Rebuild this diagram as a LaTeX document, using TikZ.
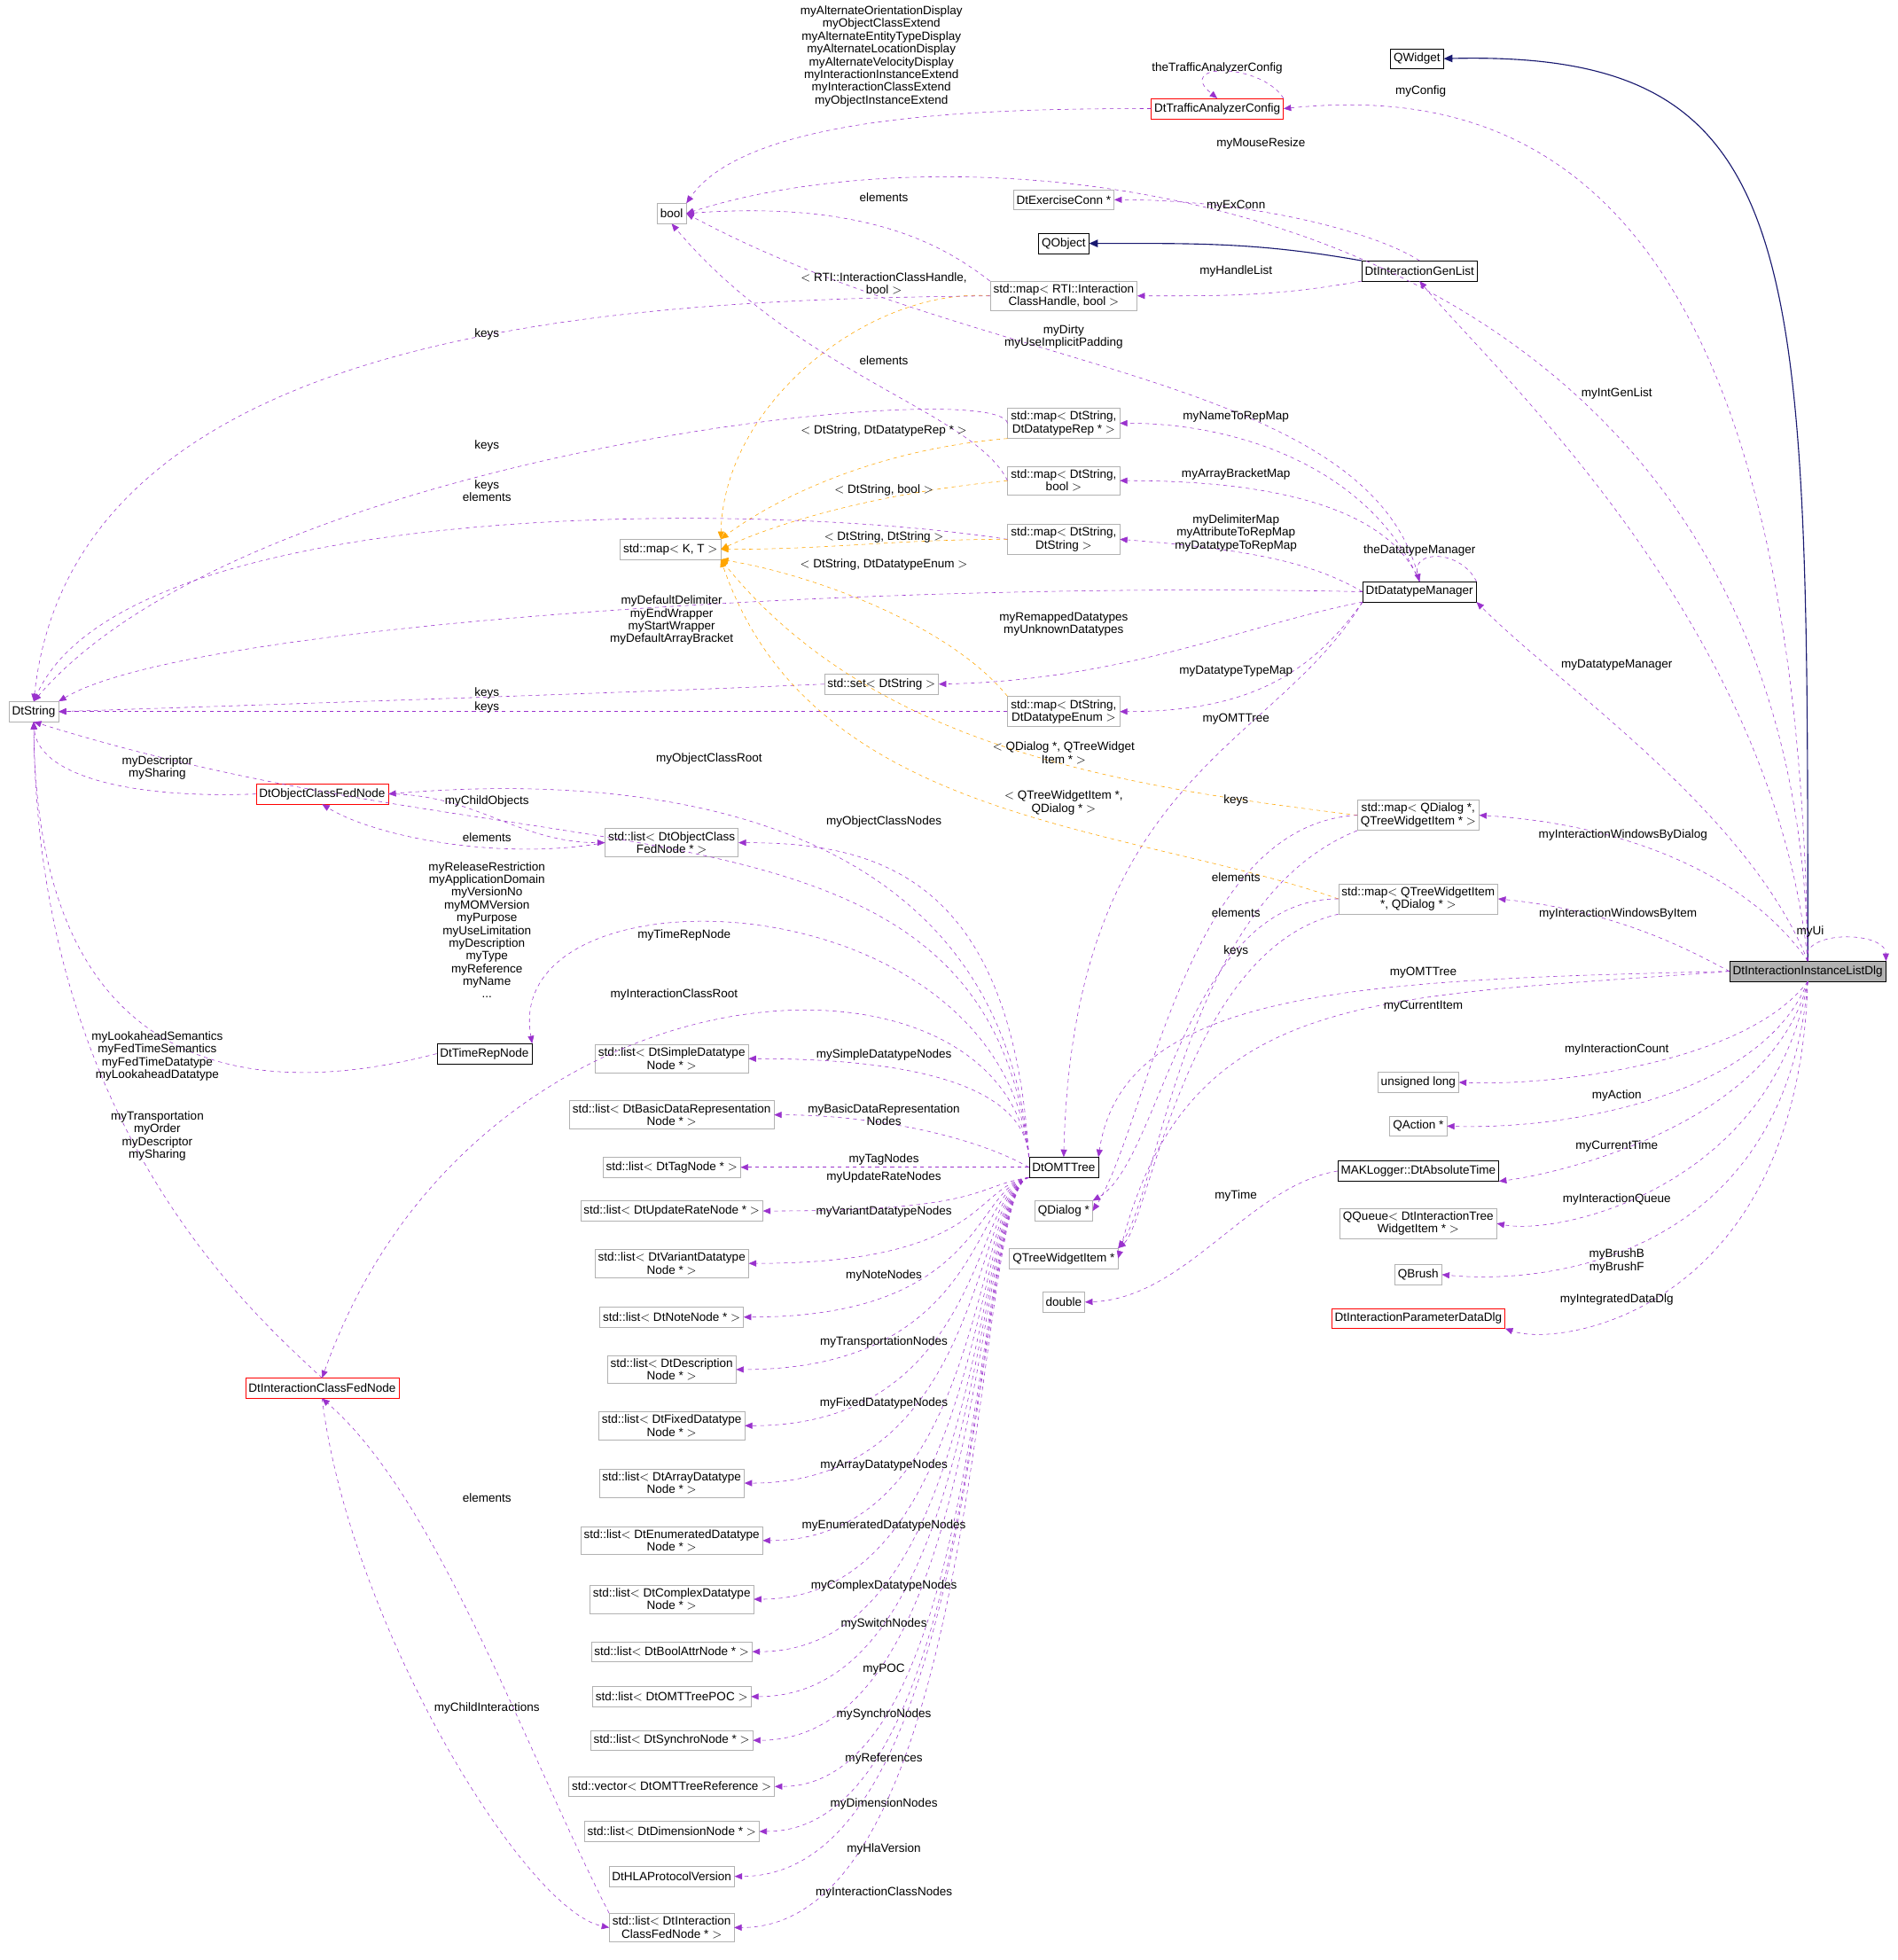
\documentclass[tikz,border=0pt]{standalone}
\usepackage{fontspec}
\setmainfont{Liberation Sans}
\usetikzlibrary{arrows.meta}
\definecolor{pu}{HTML}{9A32CD}
\definecolor{nv}{HTML}{191970}
\definecolor{or}{HTML}{FFA500}
\begin{document}
\begin{tikzpicture}[x=1pt,y=-1pt,font=\fontsize{9.6}{10.2}\selectfont,
 n/.style={draw=black!30,fill=white,inner sep=2.5pt,minimum height=16pt,align=center},
 b/.style={n,draw=black},
 r/.style={n,draw=red},
 e/.style={draw=pu,dashed,-{Triangle[length=6pt,width=5pt]}},
 o/.style={draw=or,dashed,-{Triangle[length=6pt,width=5pt]}},
 h/.style={draw=nv,thick,-{Triangle[length=7pt,width=6pt]}},
 l/.style={align=center,inner sep=0pt}]
\useasboundingbox (0,0) rectangle (1520,1570);
% nodes
\node[b] (QW) at (1135,47) {QWidget};
\node[r] (TAC) at (975,87) {DtTrafficAnalyzerConfig};
\node[n] (bool) at (538,171) {bool};
\node[n] (EC) at (852,160) {DtExerciseConn *};
\node[b] (QO) at (852,195) {QObject};
\node[b] (GL) at (1137,217) {DtInteractionGenList};
\node[n] (mRTI) at (852,237) {std::map$<$ RTI::Interaction\\ClassHandle, bool $>$};
\node[n] (mRep) at (852,339) {std::map$<$ DtString,\\DtDatatypeRep * $>$};
\node[n] (mBool) at (852,385) {std::map$<$ DtString,\\bool $>$};
\node[n] (mStr) at (852,432) {std::map$<$ DtString,\\DtString $>$};
\node[n] (KT) at (537,440) {std::map$<$ K, T $>$};
\node[b] (DM) at (1137,474) {DtDatatypeManager};
\node[n] (set) at (706,548) {std::set$<$ DtString $>$};
\node[n] (mEnum) at (852,570) {std::map$<$ DtString,\\DtDatatypeEnum $>$};
\node[n] (DS) at (27,570) {DtString};
\node[r] (OCFN) at (258,636) {DtObjectClassFedNode};
\node[n] (lOC) at (538,675) {std::list$<$ DtObjectClass\\FedNode * $>$};
\node[n] (mQD) at (1136,653) {std::map$<$ QDialog *,\\QTreeWidgetItem * $>$};
\node[n] (mQT) at (1136,720) {std::map$<$ QTreeWidgetItem\\*, QDialog * $>$};
\node[b,fill=black!30] (D) at (1448,778) {DtInteractionInstanceListDlg};
\node[b] (TR) at (388,844) {DtTimeRepNode};
\node[n] (L1) at (538,848) {std::list$<$ DtSimpleDatatype\\Node * $>$};
\node[n] (UL) at (1136,867) {unsigned long};
\node[n] (L2) at (538,893) {std::list$<$ DtBasicDataRepresentation\\Node * $>$};
\node[n] (QA) at (1136,902) {QAction *};
\node[b] (OMT) at (852,935) {DtOMTTree};
\node[n] (L3) at (538,935) {std::list$<$ DtTagNode * $>$};
\node[b] (MAK) at (1136,938) {MAKLogger::DtAbsoluteTime};
\node[n] (L4) at (538,970) {std::list$<$ DtUpdateRateNode * $>$};
\node[n] (QD) at (852,970) {QDialog *};
\node[n] (QQ) at (1136,980) {QQueue$<$ DtInteractionTree\\WidgetItem * $>$};
\node[n] (L5) at (538,1012) {std::list$<$ DtVariantDatatype\\Node * $>$};
\node[n] (QTWI) at (852,1008) {QTreeWidgetItem *};
\node[n] (QB) at (1136,1021) {QBrush};
\node[n] (dbl) at (852,1043) {double};
\node[r] (PDD) at (1136,1056) {DtInteractionParameterDataDlg};
\node[n] (L6) at (538,1055) {std::list$<$ DtNoteNode * $>$};
\node[n] (L7) at (538,1097) {std::list$<$ DtDescription\\Node * $>$};
\node[r] (ICFN) at (258,1112) {DtInteractionClassFedNode};
\node[n] (L8) at (538,1142) {std::list$<$ DtFixedDatatype\\Node * $>$};
\node[n] (L9) at (538,1188) {std::list$<$ DtArrayDatatype\\Node * $>$};
\node[n] (L10) at (538,1234) {std::list$<$ DtEnumeratedDatatype\\Node * $>$};
\node[n] (L11) at (538,1281) {std::list$<$ DtComplexDatatype\\Node * $>$};
\node[n] (L12) at (538,1323) {std::list$<$ DtBoolAttrNode * $>$};
\node[n] (L13) at (538,1359) {std::list$<$ DtOMTTreePOC $>$};
\node[n] (L14) at (538,1394) {std::list$<$ DtSynchroNode * $>$};
\node[n] (L15) at (538,1431) {std::vector$<$ DtOMTTreeReference $>$};
\node[n] (L16) at (538,1467) {std::list$<$ DtDimensionNode * $>$};
\node[n] (L17) at (538,1503) {DtHLAProtocolVersion};
\node[n] (lIC) at (538,1544) {std::list$<$ DtInteraction\\ClassFedNode * $>$};
% inheritance
\draw[h] (D.north) .. controls (1448,200) and (1450,40) .. (QW.east);
\draw[h] (GL.north west) to[out=170,in=0] (QO.east);
% from D
\draw[e] (D.north) .. controls (1440,120) and (1200,70) .. (TAC.east);
\draw[e] (D.north) .. controls (1440,150) and (800,90) .. (bool.east);
\draw[e] (D.north) .. controls (1420,500) and (1200,300) .. (GL.south);
\draw[e] (D.north) .. controls (1400,650) and (1250,550) .. (DM.south east);
\draw[e] (D.north) .. controls (1400,700) and (1300,660) .. (mQD.east);
\draw[e] (D.west) .. controls (1360,765) and (1300,730) .. (mQT.east);
\draw[e] (D.north) .. controls (1440,745) and (1510,745) .. (D.north east);
\draw[e] (D.west) .. controls (1100,785) and (900,790) .. (OMT.north east);
\draw[e] (D.west) .. controls (1100,800) and (950,790) .. (QTWI.east);
\draw[e] (D.south) .. controls (1400,850) and (1250,870) .. (UL.east);
\draw[e] (D.south) .. controls (1410,880) and (1250,905) .. (QA.east);
\draw[e] (D.south) .. controls (1420,900) and (1250,940) .. (MAK.south east);
\draw[e] (D.south) .. controls (1420,950) and (1250,990) .. (QQ.east);
\draw[e] (D.south) .. controls (1430,1000) and (1250,1030) .. (QB.east);
\draw[e] (D.south) .. controls (1440,1050) and (1250,1080) .. (PDD.south east);
% TAC, GL
\draw[e] (TAC.north east) .. controls (1010,50) and (940,50) .. (TAC.north);
\draw[e] (TAC.west) .. controls (800,87) and (600,90) .. (bool.north east);
\draw[e] (GL.north) .. controls (1100,185) and (1000,160) .. (EC.east);
\draw[e] (GL.south west) to[out=190,in=0] (mRTI.east);
\draw[e] (mRTI.north west) .. controls (760,200) and (700,160) .. (bool.east);
\draw[o] (mRTI.west) .. controls (700,230) and (580,320) .. (KT.north east);
\draw[e] (mRTI.west) .. controls (500,240) and (60,260) .. (DS.north);
% DM
\draw[e] (DM.north) .. controls (1100,300) and (790,300) .. (bool.east);
\draw[e] (DM.north) .. controls (1100,380) and (1000,339) .. (mRep.east);
\draw[e] (DM.north) .. controls (1110,400) and (1000,385) .. (mBool.east);
\draw[e] (DM.west) .. controls (1050,450) and (1000,440) .. (mStr.east);
\draw[e] (DM.north east) .. controls (1170,440) and (1130,440) .. (DM.north);
\draw[e] (DM.west) .. controls (700,465) and (150,500) .. (DS.north east);
\draw[e] (DM.south west) .. controls (1000,500) and (900,545) .. (set.east);
\draw[e] (DM.south west) .. controls (1050,540) and (1000,570) .. (mEnum.east);
\draw[e] (DM.south west) .. controls (1020,600) and (860,620) .. (OMT.north);
% maps
\draw[e] (mBool.west) .. controls (780,330) and (640,300) .. (bool.south);
\draw[e] (mRep.west) .. controls (800,300) and (200,360) .. (DS.north);
\draw[o] (mRep.south west) .. controls (700,360) and (620,400) .. (KT.north east);
\draw[o] (mBool.west) .. controls (700,395) and (620,420) .. (KT.east);
\draw[e] (mStr.west) .. controls (600,400) and (100,400) .. (DS.north);
\draw[o] (mStr.west) to[out=180,in=0] (KT.east);
\draw[e] (set.west) .. controls (500,555) and (200,565) .. (DS.east);
\draw[e] (mEnum.west) -- (DS.east);
\draw[o] (mEnum.north west) .. controls (760,500) and (650,460) .. (KT.south east);
\draw[o] (mQD.west) .. controls (900,630) and (700,600) .. (KT.south east);
\draw[o] (mQT.west) .. controls (900,660) and (650,660) .. (KT.south east);
\draw[e] (mQD.west) .. controls (950,660) and (920,900) .. (QD.east);
\draw[e] (mQD.south west) .. controls (950,720) and (930,950) .. (QTWI.north east);
\draw[e] (mQT.west) .. controls (950,720) and (930,930) .. (QD.north east);
\draw[e] (mQT.south west) .. controls (950,760) and (920,980) .. (QTWI.north east);
% OMT left
\draw[e] (OMT.north west) .. controls (800,640) and (500,620) .. (OCFN.east);
\draw[e] (OMT.north west) .. controls (810,700) and (700,675) .. (lOC.east);
\draw[e] (OMT.north west) .. controls (790,620) and (450,710) .. (DS.south);
\draw[e] (OMT.north west) .. controls (800,700) and (400,690) .. (TR.north east);
\draw[e] (OMT.north west) .. controls (800,740) and (380,760) .. (ICFN.north);
\draw[e] (OMT.north west) .. controls (820,860) and (700,848) .. (L1.east);
\draw[e] (OMT.west) .. controls (780,910) and (700,893) .. (L2.east);
\draw[e] (OMT.west) -- (L3.east);
\foreach \t/\y in {L4/970,L5/1012,L6/1055,L7/1097,L8/1142,L9/1188,L10/1234,L11/1281,L12/1323,L13/1359,L14/1394,L15/1431,L16/1467,L17/1503,lIC/1544}
 \draw[e] (OMT.south west) .. controls (780,950) and (790,\y) .. (\t.east);
% other
\draw[e] (OCFN.west) .. controls (100,640) and (30,620) .. (DS.south);
\draw[e] (OCFN.east) to[out=0,in=180] (lOC.west);
\draw[e] (lOC.west) .. controls (400,690) and (300,670) .. (OCFN.south);
\draw[e] (TR.west) .. controls (250,870) and (30,900) .. (DS.south);
\draw[e] (ICFN.north) .. controls (200,1050) and (30,900) .. (DS.south);
\draw[e] (ICFN.south) .. controls (280,1300) and (420,1530) .. (lIC.west);
\draw[e] (lIC.north west) .. controls (420,1400) and (350,1200) .. (ICFN.south);
\draw[e] (MAK.west) .. controls (1000,950) and (950,1040) .. (dbl.east);
% labels
\node[l] at (706,45) {myAlternateOrientationDisplay\\myObjectClassExtend\\myAlternateEntityTypeDisplay\\myAlternateLocationDisplay\\myAlternateVelocityDisplay\\myInteractionInstanceExtend\\myInteractionClassExtend\\myObjectInstanceExtend};
\node[l] at (975,55) {theTrafficAnalyzerConfig};
\node[l] at (1138,73) {myConfig};
\node[l] at (1010,115) {myMouseResize};
\node[l] at (708,158) {elements};
\node[l] at (990,165) {myExConn};
\node[l] at (990,217) {myHandleList};
\node[l] at (708,227) {$<$ RTI::InteractionClassHandle,\\bool $>$};
\node[l] at (390,268) {keys};
\node[l] at (852,270) {myDirty\\myUseImplicitPadding};
\node[l] at (708,289) {elements};
\node[l] at (1295,315) {myIntGenList};
\node[l] at (990,334) {myNameToRepMap};
\node[l] at (708,345) {$<$ DtString, DtDatatypeRep * $>$};
\node[l] at (390,357) {keys};
\node[l] at (990,380) {myArrayBracketMap};
\node[l] at (708,393) {$<$ DtString, bool $>$};
\node[l] at (390,393) {keys\\elements};
\node[l] at (990,427) {myDelimiterMap\\myAttributeToRepMap\\myDatatypeToRepMap};
\node[l] at (708,430) {$<$ DtString, DtString $>$};
\node[l] at (1137,441) {theDatatypeManager};
\node[l] at (708,452) {$<$ DtString, DtDatatypeEnum $>$};
\node[l] at (538,497) {myDefaultDelimiter\\myEndWrapper\\myStartWrapper\\myDefaultArrayBracket};
\node[l] at (852,500) {myRemappedDatatypes\\myUnknownDatatypes};
\node[l] at (1295,533) {myDatatypeManager};
\node[l] at (990,538) {myDatatypeTypeMap};
\node[l] at (390,555) {keys};
\node[l] at (390,567) {keys};
\node[l] at (990,576) {myOMTTree};
\node[l] at (852,603) {$<$ QDialog *, QTreeWidget\\Item * $>$};
\node[l] at (568,608) {myObjectClassRoot};
\node[l] at (126,615) {myDescriptor\\mySharing};
\node[l] at (990,641) {keys};
\node[l] at (390,642) {myChildObjects};
\node[l] at (852,643) {$<$ QTreeWidgetItem *,\\QDialog * $>$};
\node[l] at (708,658) {myObjectClassNodes};
\node[l] at (1300,669) {myInteractionWindowsByDialog};
\node[l] at (390,671) {elements};
\node[l] at (990,703) {elements};
\node[l] at (990,731) {elements};
\node[l] at (1296,732) {myInteractionWindowsByItem};
\node[l] at (390,745) {myReleaseRestriction\\myApplicationDomain\\myVersionNo\\myMOMVersion\\myPurpose\\myUseLimitation\\myDescription\\myType\\myReference\\myName\\...};
\node[l] at (1450,746) {myUi};
\node[l] at (548,749) {myTimeRepNode};
\node[l] at (990,762) {keys};
\node[l] at (1140,779) {myOMTTree};
\node[l] at (540,797) {myInteractionClassRoot};
\node[l] at (1140,806) {myCurrentItem};
\node[l] at (1295,841) {myInteractionCount};
\node[l] at (708,845) {mySimpleDatatypeNodes};
\node[l] at (126,846) {myLookaheadSemantics\\myFedTimeSemantics\\myFedTimeDatatype\\myLookaheadDatatype};
\node[l] at (1295,878) {myAction};
\node[l] at (708,893) {myBasicDataRepresentation\\Nodes};
\node[l] at (126,910) {myTransportation\\myOrder\\myDescriptor\\mySharing};
\node[l] at (1295,918) {myCurrentTime};
\node[l] at (708,929) {myTagNodes};
\node[l] at (708,943) {myUpdateRateNodes};
\node[l] at (990,958) {myTime};
\node[l] at (1295,961) {myInteractionQueue};
\node[l] at (708,971) {myVariantDatatypeNodes};
\node[l] at (1295,1010) {myBrushB\\myBrushF};
\node[l] at (708,1022) {myNoteNodes};
\node[l] at (1295,1041) {myIntegratedDataDlg};
\node[l] at (708,1075) {myTransportationNodes};
\node[l] at (708,1124) {myFixedDatatypeNodes};
\node[l] at (708,1174) {myArrayDatatypeNodes};
\node[l] at (390,1200) {elements};
\node[l] at (708,1222) {myEnumeratedDatatypeNodes};
\node[l] at (708,1270) {myComplexDatatypeNodes};
\node[l] at (708,1301) {mySwitchNodes};
\node[l] at (708,1337) {myPOC};
\node[l] at (390,1368) {myChildInteractions};
\node[l] at (708,1373) {mySynchroNodes};
\node[l] at (708,1409) {myReferences};
\node[l] at (708,1445) {myDimensionNodes};
\node[l] at (708,1481) {myHlaVersion};
\node[l] at (708,1516) {myInteractionClassNodes};
\end{tikzpicture}
\end{document}
